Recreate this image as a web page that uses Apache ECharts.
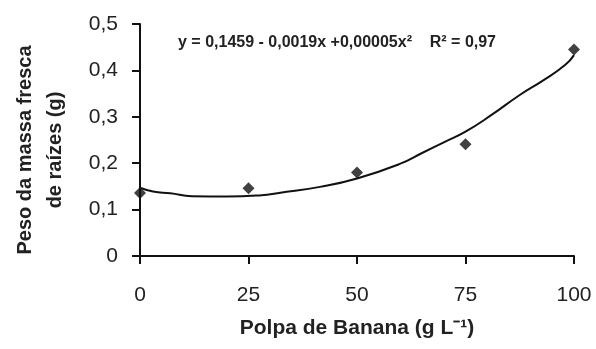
<!DOCTYPE html>
<html>
<head>
<meta charset="utf-8">
<script src="https://cdn.jsdelivr.net/npm/echarts@6/dist/echarts.min.js"></script>
<style>
  html, body { margin: 0; padding: 0; background: #fff; }
</style>
</head>
<body>
<div id="raizChart" style="width:596px;height:349px;"></div>
<script>
  // pontos observados
  var doses = [0, 25, 50, 75, 100]
  var massa = [0.136, 0.146, 0.180, 0.241, 0.445]

  // curva ajustada
  var curvaX = [0, 3, 7, 12, 20, 28, 32, 41.5, 50, 60, 65, 70, 75, 81, 87.5, 93, 98, 100]
  var curvaY = [0.147, 0.139, 0.135, 0.129, 0.128, 0.131, 0.136, 0.149, 0.167, 0.199, 0.222, 0.245, 0.268, 0.304, 0.347, 0.379, 0.412, 0.433]

  var equacao = 'y = 0,1459 - 0,0019x +0,00005x²    R² = 0,97'

  var chart = echarts.init(document.getElementById('raizChart'))
  chart.setOption({
    animation: false,
    grid: { left: 140, right: 22, top: 24, bottom: 93, containLabel: false, outerBoundsMode: 'none' },
    xAxis: {
      type: 'value', min: 0, max: 100, interval: 25,
      name: 'Polpa de Banana (g L⁻¹)',
      nameLocation: 'middle', nameGap: 62,
      nameTextStyle: { fontFamily: 'Liberation Sans', fontWeight: 'bold', fontSize: 21, color: '#222' },
      axisLine: { lineStyle: { color: '#111', width: 2 } },
      axisTick: { length: 8, lineStyle: { color: '#111', width: 2 } },
      axisLabel: { fontFamily: 'Liberation Sans', fontSize: 21, color: '#222', margin: 29 },
      splitLine: { show: false }
    },
    yAxis: {
      type: 'value', min: 0, max: 0.5, interval: 0.1,
      name: 'Peso da massa fresca\nde raízes (g)',
      nameLocation: 'middle', nameGap: 70, nameRotate: 90,
      nameTextStyle: { fontFamily: 'Liberation Sans', fontWeight: 'bold', fontSize: 20, color: '#222', lineHeight: 30, padding: [0, 20, 0, 0] },
      axisLine: { lineStyle: { color: '#111', width: 2 } },
      axisTick: { length: 8, lineStyle: { color: '#111', width: 2 } },
      axisLabel: {
        fontFamily: 'Liberation Sans', fontSize: 21, color: '#222', margin: 22,
        formatter: function (v) { return String(+v.toFixed(1)).replace('.', ',') }
      },
      splitLine: { show: false }
    },
    graphic: [{
      type: 'text', left: 178, top: 35,
      style: { text: equacao, fontFamily: 'Liberation Sans', fontWeight: 'bold', fontSize: 16, fill: '#222' }
    }],
    series: [{
      name: 'curva', type: 'line', smooth: true, symbol: 'none',
      data: curvaX.map(function (x, i) { return [x, curvaY[i]] }),
      lineStyle: { color: '#111', width: 2 }
    }, {
      name: 'observado', type: 'scatter', symbol: 'diamond', symbolSize: 12,
      data: doses.map(function (x, i) { return [x, massa[i]] }),
      itemStyle: { color: '#111' }
    }]
  })
</script>
</body>
</html>
